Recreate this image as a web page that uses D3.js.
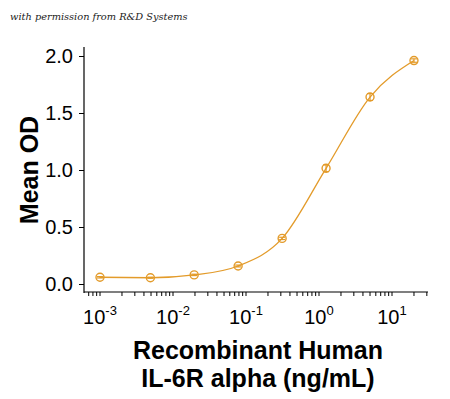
<!DOCTYPE html>
<html><head><meta charset="utf-8">
<script src="https://cdn.jsdelivr.net/npm/d3@7"></script>
<style>body{margin:0;background:#fff}svg{display:block}</style>
</head><body>
<svg id="c" width="450" height="399"></svg>
<script>
const concentrations = [0.001, 0.0049, 0.0195, 0.078, 0.3125, 1.25, 5, 20];
const meanOD = [0.059, 0.055, 0.080, 0.158, 0.400, 1.015, 1.640, 1.960];
const errOD = [0.006, 0.005, 0.006, 0.008, 0.010, 0.030, 0.030, 0.015];
const yTicks = [0, 0.5, 1.0, 1.5, 2.0];
const yTickLabels = ["0.0", "0.5", "1.0", "1.5", "2.0"];
const xMajorTicks = [1e-3, 1e-2, 1e-1, 1, 10];
const xMajorExp = ["-3", "-2", "-1", "0", "1"];
const yTitle = "Mean OD";
const xTitle = ["Recombinant Human", "IL-6R alpha (ng/mL)"];
const credit = "with permission from R&D Systems";

const color = "#E39B2A";
const svg = d3.select("#c");
const x = d3.scaleLog().domain([1e-3, 10]).range([100, 392]);
const y = d3.scaleLinear().domain([0, 2]).range([284, 56]);

// credit
svg.append("text").attr("x", 10).attr("y", 20)
  .attr("font-family", "'DejaVu Serif', serif").attr("font-style", "italic")
  .attr("font-size", 9.8).attr("fill", "#222").text(credit);

// Y axis
const yAxis = d3.axisLeft(y).tickValues(yTicks).tickFormat((d,i)=>yTickLabels[i]).tickSize(5).tickPadding(6);
const gy = svg.append("g").attr("transform", "translate(84,0)").call(yAxis);
gy.select(".domain").remove();
gy.append("line").attr("x1",0).attr("x2",0).attr("y1",47).attr("y2",293).attr("stroke","#000").attr("stroke-width",1.2);
gy.selectAll("text").attr("font-family","Arial, 'Liberation Sans', sans-serif").attr("font-size",20).attr("fill","#000");

// X axis
const minorTicks = [];
for (let e = -4; e <= 1; e++) for (let m = 1; m <= 9; m++) {
  const v = m * Math.pow(10, e);
  if (v >= 7e-4 && v <= 30) minorTicks.push(v);
}
const gx = svg.append("g").attr("transform", "translate(0,292)");
gx.append("line").attr("x1",84).attr("x2",428).attr("y1",0).attr("y2",0).attr("stroke","#000").attr("stroke-width",1.2);
gx.selectAll("line.t").data(minorTicks).join("line").attr("class","t")
  .attr("x1", d=>x(d)).attr("x2", d=>x(d)).attr("y1",0).attr("y2",4).attr("stroke","#000").attr("stroke-width",1);
const lbl = gx.selectAll("text.l").data(xMajorTicks).join("text").attr("class","l")
  .attr("x", d=>x(d)).attr("y", 32).attr("text-anchor","middle")
  .attr("font-family","Arial, 'Liberation Sans', sans-serif").attr("font-size",20).attr("fill","#000");
lbl.append("tspan").text("10");
lbl.append("tspan").attr("dy",-9).attr("font-size",13).text((d,i)=>xMajorExp[i]);

// titles
svg.append("text").attr("transform","translate(38,170) rotate(-90)").attr("text-anchor","middle")
  .attr("font-family","Arial, 'Liberation Sans', sans-serif").attr("font-weight","bold").attr("font-size",25).attr("fill","#000").text(yTitle);
svg.append("text").attr("x",258).attr("y",359).attr("text-anchor","middle")
  .attr("font-family","Arial, 'Liberation Sans', sans-serif").attr("font-weight","bold").attr("font-size",25).attr("fill","#000").text(xTitle[0]);
svg.append("text").attr("x",258).attr("y",387).attr("text-anchor","middle")
  .attr("font-family","Arial, 'Liberation Sans', sans-serif").attr("font-weight","bold").attr("font-size",25).attr("fill","#000").text(xTitle[1]);

// curve
const pts = concentrations.map((c,i)=>[c, meanOD[i]]);
const line = d3.line().x(d=>x(d[0])).y(d=>y(d[1])).curve(d3.curveMonotoneX);
svg.append("path").attr("d", line(pts)).attr("fill","none").attr("stroke",color).attr("stroke-width",1.3);

// error bars
const eb = svg.append("g").attr("stroke",color).attr("stroke-width",1.2);
pts.forEach((d,i)=>{
  const cx = x(d[0]), y1 = y(d[1]+errOD[i]), y2 = y(d[1]-errOD[i]);
  eb.append("line").attr("x1",cx).attr("x2",cx).attr("y1",y1).attr("y2",y2);
  eb.append("line").attr("x1",cx-3).attr("x2",cx+3).attr("y1",y1).attr("y2",y1);
  eb.append("line").attr("x1",cx-3).attr("x2",cx+3).attr("y1",y2).attr("y2",y2);
});
// markers
svg.append("g").selectAll("circle").data(pts).join("circle")
  .attr("cx", d=>x(d[0])).attr("cy", d=>y(d[1])).attr("r",4)
  .attr("fill","none").attr("stroke",color).attr("stroke-width",1.4);
</script>
</body></html>
